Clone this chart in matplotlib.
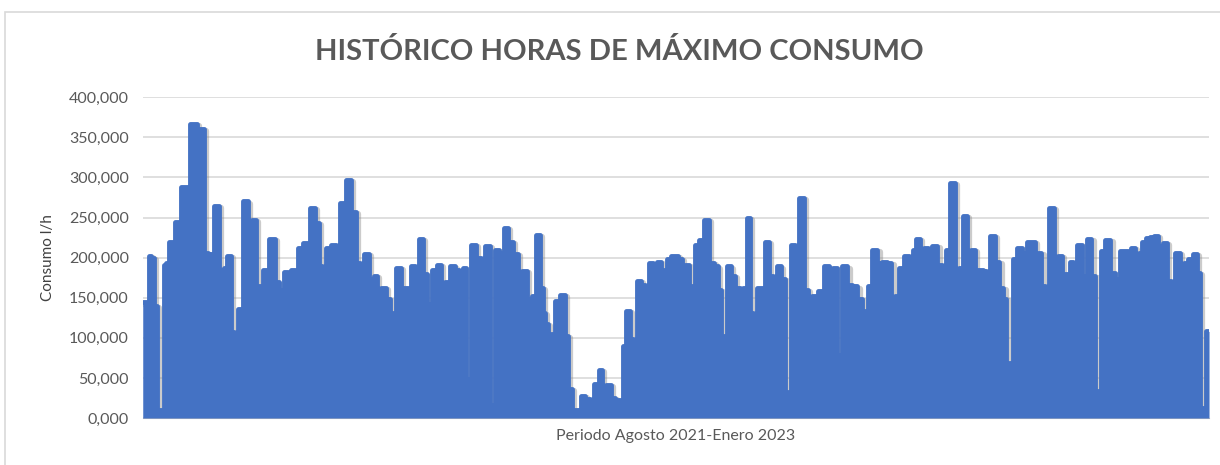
import matplotlib
matplotlib.use("Agg")
import matplotlib.pyplot as plt
from matplotlib.patches import Rectangle
from matplotlib.ticker import FuncFormatter
from matplotlib.transforms import offset_copy

plt.rcParams['font.family'] = ['Lato', 'DejaVu Sans']

# Datos (dia desde 1-ago-2021, consumo en miles de l/h)
dia = [0, 2.5, 3.5, 5, 6.5, 8, 10, 11, 12.5, 14, 15.5, 17, 18.5, 20, 22, 23, 24.5, 26.5, 27.5, 30,
       31, 32, 33, 34.5, 37, 39.5, 41.5, 43, 45, 46.5, 48.5, 51.5, 53.5, 55.5, 57.5, 59.5, 61, 65, 67, 69.5,
       72, 73.5, 75, 77, 78.5, 82, 85, 87, 89, 90.5, 92.5, 95.5, 97.5, 100, 103, 105.5, 107.5, 109.5, 112, 114.5,
       116.5, 117.5, 120.5, 122.5, 124.5, 125.5, 128, 130, 132, 133.5, 135, 137, 139, 141, 143.5, 146, 148, 150, 152, 155,
       157.5, 159, 161, 162.5, 165.5, 168, 170, 172.5, 175, 177, 179.5, 181.5, 184, 186.5, 188.5, 191, 193.5, 195.5, 197.5, 199.5,
       200.5, 202, 203, 205, 207.5, 210, 212, 213.5, 215.5, 218.5, 220, 222.5, 224.5, 227, 229, 230.5, 233, 235, 237.5, 239.5,
       241, 242.5, 244.5, 246, 248, 250, 252, 254, 256, 258, 260, 261.5, 263, 265, 267, 268.5, 270.5, 272, 274, 275,
       277, 279.5, 282, 284.5, 287, 288.5, 290, 291, 293.5, 295, 297.5, 299.5, 301, 303, 304.5, 306, 308, 310, 312, 314,
       316, 318.5, 320, 322, 323, 325, 327, 329.5, 332, 333.5, 336, 339.5, 342, 344.5, 346, 348.5, 351, 353.5, 356, 358.5,
       360.5, 362, 363.5, 366, 368.5, 371, 373.5, 375, 377, 379.5, 382, 384.5, 386, 387.5, 389.5, 391.5, 393.5, 396, 398.5, 400.5,
       402.5, 405, 407, 409, 411, 413, 415, 417, 419.5, 421, 422.5, 425, 427, 429.5, 431, 432.5, 434, 436, 438.5, 441,
       443, 445, 447, 448.5, 450, 452, 454.5, 456.5, 458.5, 460.5, 462.5, 464.5, 466, 468.5, 471, 473, 475.5, 477, 478, 480,
       482.5, 485, 487.5, 490, 492, 493, 495, 497, 498.5, 500.5, 502.5, 504.5, 506.5, 508.5, 511, 513, 514.5, 517, 519.5, 521,
       523.5, 526, 527.5, 529.5, 531, 532, 533]

consumo_k = [145, 145, 202, 200, 140, 10, 10, 191, 193, 220, 220, 245, 245, 288, 288, 190, 367, 367, 360, 360,
             206, 206, 115, 204, 264, 185, 187, 202, 107, 12, 136, 270, 173, 247, 165, 165, 185, 223, 169, 160,
             182, 28, 185, 162, 212, 218, 262, 243, 190, 183, 212, 216, 12, 268, 297, 257, 193, 144, 204, 173,
             177, 150, 162, 148, 131, 20, 187, 162, 162, 150, 189, 183, 223, 179, 142, 185, 191, 136, 169, 189,
             185, 169, 187, 49, 216, 200, 187, 214, 16, 210, 206, 237, 220, 204, 78, 183, 148, 152, 228, 162,
             131, 117, 18, 105, 146, 154, 102, 36, 10, 10, 28, 24, 10, 43, 60, 12, 41, 25, 23, 20,
             90, 133, 98, 10, 171, 166, 164, 193, 181, 195, 185, 20, 198, 202, 202, 198, 185, 191, 164, 12,
             216, 222, 247, 193, 189, 160, 102, 16, 189, 177, 162, 160, 162, 249, 131, 12, 162, 162, 220, 177,
             173, 189, 173, 28, 32, 216, 160, 274, 160, 7, 152, 158, 189, 148, 187, 78, 189, 166, 164, 148,
             133, 32, 164, 210, 193, 194, 193, 98, 152, 187, 202, 181, 210, 223, 181, 212, 185, 214, 191, 16,
             210, 293, 164, 187, 252, 173, 209, 185, 185, 183, 171, 227, 195, 162, 148, 20, 69, 198, 212, 206,
             220, 220, 164, 206, 164, 20, 262, 175, 202, 179, 179, 195, 171, 216, 177, 223, 177, 34, 16, 208,
             222, 181, 173, 208, 208, 171, 212, 24, 206, 220, 224, 226, 227, 214, 218, 171, 7, 206, 175, 193,
             198, 204, 181, 12, 12, 108, 108]

ticks_y = [0, 50000, 100000, 150000, 200000, 250000, 300000, 350000, 400000]

azul = '#4472C4'
gris_texto = '#595959'

fig = plt.figure(figsize=(12.2, 4.65), dpi=100)
ax = fig.add_axes([0.117, 0.101, 0.874, 0.690])

# marco del grafico
fig.patches.append(Rectangle((5 / 1220, -0.1), 1.2, 1 - 12 / 465 + 0.1, transform=fig.transFigure,
                             fill=False, edgecolor='#d9d9d9', linewidth=1.2, zorder=0))

consumo = [v * 1000 for v in consumo_k]

# sombra suave bajo la serie (como en Excel)
desplazada = offset_copy(ax.transData, fig=fig, x=1.5, y=-1.5, units='points')
ax.plot(dia, consumo, color='#8c8c8c', alpha=0.45, lw=4.5, drawstyle='steps-mid',
        solid_joinstyle='round', transform=desplazada, zorder=2)
ax.fill_between(dia, consumo, 0, step='mid', color=azul, linewidth=0, zorder=3)
ax.plot(dia, consumo, color=azul, lw=3.5, drawstyle='steps-mid', solid_joinstyle='round',
        solid_capstyle='round', zorder=4)

ax.set_xlim(0, 533)
ax.set_ylim(0, 400000)
ax.set_yticks(ticks_y)
ax.yaxis.set_major_formatter(FuncFormatter(lambda v, p: "0,000" if v == 0 else f"{int(v / 1000)},000"))
ax.set_xticks([])
ax.grid(axis='y', color='#d9d9d9', linewidth=1.2, zorder=0)
ax.set_axisbelow(True)
for s in ['top', 'right', 'left']:
    ax.spines[s].set_visible(False)
ax.spines['bottom'].set_color('#bfbfbf')
ax.tick_params(axis='y', length=0, pad=10, labelsize=11.5, labelcolor=gris_texto)

ax.set_ylabel('Consumo l/h', fontsize=11, color='#404040', labelpad=10)
ax.set_xlabel('Periodo Agosto 2021-Enero 2023', fontsize=11.5, color=gris_texto, labelpad=8)
fig.text(0.508, 0.889, 'HISTÓRICO HORAS DE MÁXIMO CONSUMO', ha='center', va='center',
         fontsize=21, fontweight='bold', color=gris_texto)

fig.savefig('out.png', dpi=100)
